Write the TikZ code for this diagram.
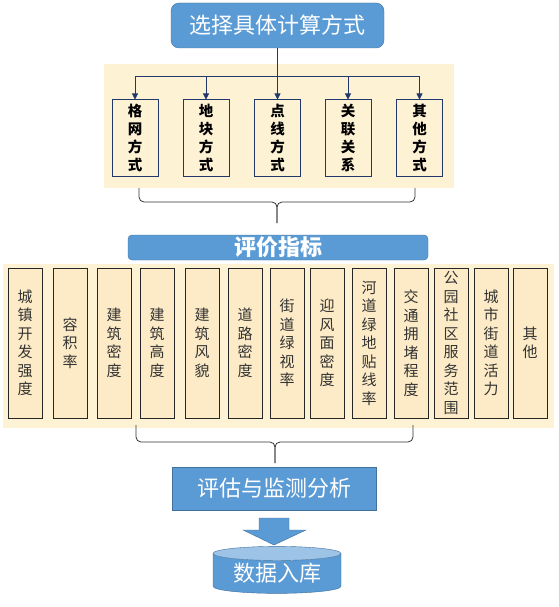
\documentclass[tikz,border=0pt]{standalone}
\usepackage{fontspec}
\newfontfamily\cjk{Noto Sans CJK SC}
\usetikzlibrary{shapes.geometric,arrows.meta}
\definecolor{boxblue}{HTML}{5B9BD5}
\definecolor{edgeblue}{HTML}{41719C}
\definecolor{toplight}{HTML}{9DC3E6}
\definecolor{panelbg}{HTML}{FEF2D5}
\definecolor{cellbg}{HTML}{FCEBC6}
\definecolor{navy}{HTML}{22386A}
\tikzset{
  titlebox/.style={rectangle, draw=edgeblue, fill=boxblue, text=white, font=\cjk\fontsize{22}{24}\selectfont},
  waybox/.style={rectangle, draw=navy, line width=1pt, fill=panelbg, minimum width=46pt, minimum height=76pt, inner sep=0pt, align=center, font=\cjk\bfseries\fontsize{14.5}{18}\selectfont},
  idxbox/.style={rectangle, draw=black!85, line width=1pt, fill=cellbg, minimum width=34pt, minimum height=150pt, inner sep=0pt, align=center, text=black!80, font=\cjk\fontsize{15}{18.5}\selectfont},
  arr/.style={draw=navy, line width=0.8pt, -{Triangle[length=6pt,width=6pt]}},
  brc/.style={draw=black!80, line width=0.8pt, rounded corners=5pt}
}
\begin{document}
\begin{tikzpicture}[x=1pt, y=-1pt]
      \useasboundingbox (0,0) rectangle (558,607);
      % Panels
      \fill[panelbg] (104,64) rectangle (454,188);
      \fill[panelbg] (3,264) rectangle (554,428);

      % Nodes
      \node[titlebox, rounded corners=8pt, minimum width=213pt, minimum height=45pt] at (277.5,25.5) (sel) {选择具体计算方式};
      \node[waybox] at (135,138) (m1) {格\\网\\方\\式};
      \node[waybox] at (206,138) (m2) {地\\块\\方\\式};
      \node[waybox] at (277.5,138) (m3) {点\\线\\方\\式};
      \node[waybox] at (348,138) (m4) {关\\联\\关\\系};
      \node[waybox] at (419.5,138) (m5) {其\\他\\方\\式};

      \node[titlebox, font=\cjk\bfseries\fontsize{22}{24}\selectfont, rounded corners=4pt, minimum width=300pt, minimum height=25pt, inner sep=0pt] at (278,247.5) (idx) {评价指标};
      \node[idxbox] at (25,343) (k1) {城\\镇\\开\\发\\强\\度};
      \node[idxbox] at (70,343) (k2) {容\\积\\率};
      \node[idxbox] at (114,343) (k3) {建\\筑\\密\\度};
      \node[idxbox] at (157,343) (k4) {建\\筑\\高\\度};
      \node[idxbox] at (202,343) (k5) {建\\筑\\风\\貌};
      \node[idxbox] at (245,343) (k6) {道\\路\\密\\度};
      \node[idxbox] at (287,343) (k7) {街\\道\\绿\\视\\率};
      \node[idxbox] at (327,343) (k8) {迎\\风\\面\\密\\度};
      \node[idxbox] at (369,343) (k9) {河\\道\\绿\\地\\贴\\线\\率};
      \node[idxbox] at (411,343) (k10) {交\\通\\拥\\堵\\程\\度};
      \node[idxbox] at (451,343) (k11) {公\\园\\社\\区\\服\\务\\范\\围};
      \node[idxbox] at (491,343) (k12) {城\\市\\街\\道\\活\\力};
      \node[idxbox] at (530,343) (k13) {其\\他};

      \node[titlebox, minimum width=204pt, minimum height=43pt] at (274,488.5) (eval) {评估与监测分析};
      \node[cylinder, shape border rotate=90, aspect=0.16, draw=edgeblue, cylinder uses custom fill, cylinder body fill=boxblue, cylinder end fill=toplight, text=white, font=\cjk\fontsize{22}{24}\selectfont, minimum width=128pt, minimum height=47pt, inner sep=0pt] at (277,573.5) (db) {数据入库};

      % Connectors
      \draw[arr] (sel.south) -- ++(0,28) -| (m1.north);
      \draw[arr] (sel.south) -- ++(0,28) -| (m2.north);
      \draw[arr] (sel.south) -- (m3.north);
      \draw[arr] (sel.south) -- ++(0,28) -| (m4.north);
      \draw[arr] (sel.south) -- ++(0,28) -| (m5.north);

      % Braces
      \draw[brc] (139,188) -- (139,202) -- (277,202) -- (277,223);
      \draw[brc] (415,188) -- (415,202) -- (277,202) -- (277,223);
      \draw[brc] (136,425) -- (136,442) -- (275,442) -- (275,463);
      \draw[brc] (413,425) -- (413,442) -- (275,442) -- (275,463);

      \fill[boxblue, draw=edgeblue] (259,518) -- (289,518) -- (289,530) -- (306,530) -- (274,545) -- (243,530) -- (259,530) -- cycle;
\end{tikzpicture}
\end{document}
